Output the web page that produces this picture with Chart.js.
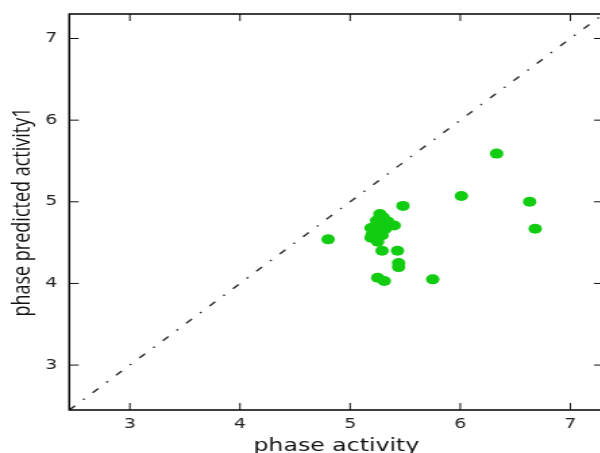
<!DOCTYPE html>
<html>
<head>
<meta charset="utf-8">
<script src="https://cdn.jsdelivr.net/npm/chart.js@4.4.1/dist/chart.umd.min.js"></script>
<style>
  html, body { margin: 0; padding: 0; overflow: hidden; background: #fff; }
  /* the reference is stretched sideways, so the chart is too */
  #wrap { width: 452px; height: 470px; transform: scaleX(1.35); transform-origin: 0 0; }
</style>
</head>
<body>
<div id="wrap"><canvas id="activityChart"></canvas></div>
<script>
// measured vs predicted activity
const activity = [4.80, 6.33, 6.01, 6.63, 6.68, 5.75, 5.48, 5.29, 5.43, 5.44, 5.44, 5.25, 5.31,
    5.27, 5.30, 5.24, 5.34, 5.40, 5.19, 5.27, 5.32, 5.20, 5.28, 5.19, 5.25, 5.29];
const predicted = [4.54, 5.59, 5.07, 5.00, 4.67, 4.05, 4.95, 4.40, 4.40, 4.25, 4.20, 4.07, 4.03,
    4.85, 4.81, 4.77, 4.76, 4.71, 4.68, 4.69, 4.67, 4.60, 4.62, 4.56, 4.51, 4.59];
const axisRange = [2.45, 7.3];
const xTicks = [3, 4, 5, 6, 7];
const yTicks = [3, 4, 5, 6, 7];

const points = activity.map((v, i) => ({ x: v, y: predicted[i] }));
const diagonal = axisRange.map(v => ({ x: v, y: v }));

// frame on all four sides with ticks pointing inwards
const framePlugin = {
    id: 'frame',
    afterDraw(chart) {
        const { ctx, chartArea: a } = chart;
        const x = chart.scales.x, y = chart.scales.y;
        ctx.save();
        ctx.strokeStyle = '#111';
        ctx.lineWidth = 1;
        ctx.beginPath();
        xTicks.forEach(v => {
            const px = x.getPixelForValue(v);
            ctx.moveTo(px, a.bottom); ctx.lineTo(px, a.bottom - 7);
            ctx.moveTo(px, a.top); ctx.lineTo(px, a.top + 7);
        });
        yTicks.forEach(v => {
            const py = y.getPixelForValue(v);
            ctx.moveTo(a.left, py); ctx.lineTo(a.left + 7, py);
            ctx.moveTo(a.right, py); ctx.lineTo(a.right - 7, py);
        });
        ctx.stroke();
        ctx.lineWidth = 1.5;
        ctx.strokeStyle = '#000';
        ctx.strokeRect(a.left, a.top, a.right - a.left, a.bottom - a.top);
        ctx.restore();
    }
};

const config = {
    type: 'scatter',
    data: {
        datasets: [{
            label: 'compounds',
            data: points,
            backgroundColor: '#11cc11',
            borderWidth: 0,
            pointRadius: 5,
            order: 1
        }, {
            type: 'line',
            label: 'y = x',
            data: diagonal,
            borderColor: '#2a2a2a',
            borderWidth: 1.4,
            borderDash: [6, 8.5, 1.5, 8.5],
            pointRadius: 0,
            fill: false,
            order: 2
        }]
    },
    options: {
        responsive: true,
        maintainAspectRatio: false,
        animation: false,
        events: [],
        layout: { padding: { top: 14, right: 3, left: 0, bottom: 0 } },
        scales: {
            x: {
                type: 'linear',
                position: 'bottom',
                min: axisRange[0],
                max: axisRange[1],
                afterBuildTicks: s => { s.ticks = xTicks.map(v => ({ value: v })); },
                afterFit: s => { s.height = 60; s.paddingLeft = 0; s.paddingRight = 0; },
                grid: { display: false, drawTicks: false },
                border: { display: false },
                ticks: {
                    padding: 6,
                    color: '#222',
                    font: { family: 'DejaVu Sans', size: 14 }
                },
                title: {
                    display: true,
                    text: 'phase activity',
                    color: '#111',
                    font: { family: 'DejaVu Sans', size: 17.5 },
                    padding: { top: 0, bottom: 13.5 }
                }
            },
            y: {
                type: 'linear',
                position: 'left',
                min: axisRange[0],
                max: axisRange[1],
                afterBuildTicks: s => { s.ticks = yTicks.map(v => ({ value: v })); },
                afterFit: s => { s.width = 51.3; s.paddingTop = 0; s.paddingBottom = 0; },
                grid: { display: false, drawTicks: false },
                border: { display: false },
                ticks: {
                    padding: 9,
                    color: '#222',
                    font: { family: 'DejaVu Sans', size: 14 }
                },
                title: {
                    display: true,
                    text: 'phase predicted activity1',
                    color: '#111',
                    font: { family: 'Open Sans', size: 18 },
                    padding: { top: 6.5, bottom: 0 }
                }
            }
        },
        plugins: {
            legend: { display: false },
            tooltip: { enabled: false }
        }
    },
    plugins: [framePlugin]
};

const activityChart = new Chart(document.getElementById('activityChart'), config);
</script>
</body>
</html>
